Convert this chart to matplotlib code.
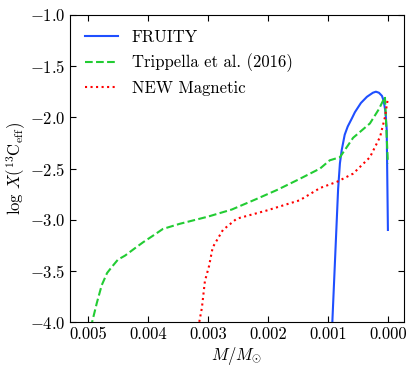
import matplotlib
matplotlib.use("Agg")
import matplotlib.pyplot as plt

plt.rcParams['font.family'] = 'serif'
plt.rcParams['font.serif'] = ['cmr10']
plt.rcParams['mathtext.fontset'] = 'cm'
plt.rcParams['axes.formatter.use_mathtext'] = True
plt.rcParams['font.size'] = 12

# FRUITY
fruity_m = [0.00093, 0.00083, 0.00080, 0.00077, 0.00072, 0.00067, 0.00060, 0.00055,
            0.00045, 0.00040, 0.00035, 0.00030, 0.00025, 0.00020, 0.00015, 0.00010,
            0.00007, 0.00004, 0.00002, 0.0]
fruity_x = [-4.05, -2.70, -2.45, -2.32, -2.17, -2.09, -2.01, -1.95,
            -1.86, -1.83, -1.80, -1.78, -1.76, -1.75, -1.76, -1.79,
            -1.84, -1.95, -2.12, -3.10]

# Trippella et al. (2016)
trip_m = [0.00497, 0.00493, 0.00485, 0.00477, 0.00468, 0.00460, 0.00450, 0.00438,
          0.00422, 0.00408, 0.00390, 0.00375, 0.00347, 0.00300, 0.00260, 0.00220,
          0.00185, 0.00150, 0.00113, 0.00097, 0.00080, 0.00058, 0.00030, 0.00015,
          0.00005, 0.0]
trip_x = [-4.05, -4.00, -3.81, -3.64, -3.52, -3.46, -3.39, -3.35,
          -3.28, -3.22, -3.15, -3.09, -3.04, -2.97, -2.90, -2.80,
          -2.71, -2.61, -2.50, -2.42, -2.39, -2.20, -2.06, -1.92,
          -1.80, -2.45]

# NEW Magnetic
mag_m = [0.00316, 0.00310, 0.00305, 0.00298, 0.00292, 0.00275, 0.00252, 0.00202,
         0.00147, 0.00113, 0.00085, 0.00058, 0.00030, 0.00013, 0.00005, 0.00001, 0.0]
mag_x = [-4.05, -3.86, -3.60, -3.45, -3.27, -3.10, -2.99, -2.91,
         -2.81, -2.69, -2.63, -2.55, -2.39, -2.19, -2.00, -1.85, -1.81]

fig = plt.figure(figsize=(4.16, 3.72), dpi=100)
ax = fig.add_axes([0.168, 0.134, 0.803, 0.826])

ax.plot(fruity_m, fruity_x, color='#1f4fff', lw=1.5, label='FRUITY')
ax.plot(trip_m, trip_x, color='#22cc33', lw=1.5, ls='--', label='Trippella et al. (2016)')
ax.plot(mag_m, mag_x, color='red', lw=1.5, ls=':', label='NEW Magnetic')

ax.set_xlim(0.0053, -0.000267)
ax.set_ylim(-4.0, -1.0)
ax.set_xticks([0.005, 0.004, 0.003, 0.002, 0.001, 0.0])
ax.set_xticklabels(['0.005', '0.004', '0.003', '0.002', '0.001', '0.000'])
ax.set_yticks([-4.0, -3.5, -3.0, -2.5, -2.0, -1.5, -1.0])
ax.set_yticklabels([r'$-4.0$', r'$-3.5$', r'$-3.0$', r'$-2.5$', r'$-2.0$', r'$-1.5$', r'$-1.0$'])
ax.tick_params(direction='in', top=True, right=True, length=4)

ax.set_xlabel(r'$M/M_{\odot}$', labelpad=2)
ax.set_ylabel(r'$\log\,X(^{13}{\rm C}_{\rm eff})$', labelpad=1)
ax.legend(loc='upper left', frameon=False)

fig.savefig('out.png', dpi=100)
